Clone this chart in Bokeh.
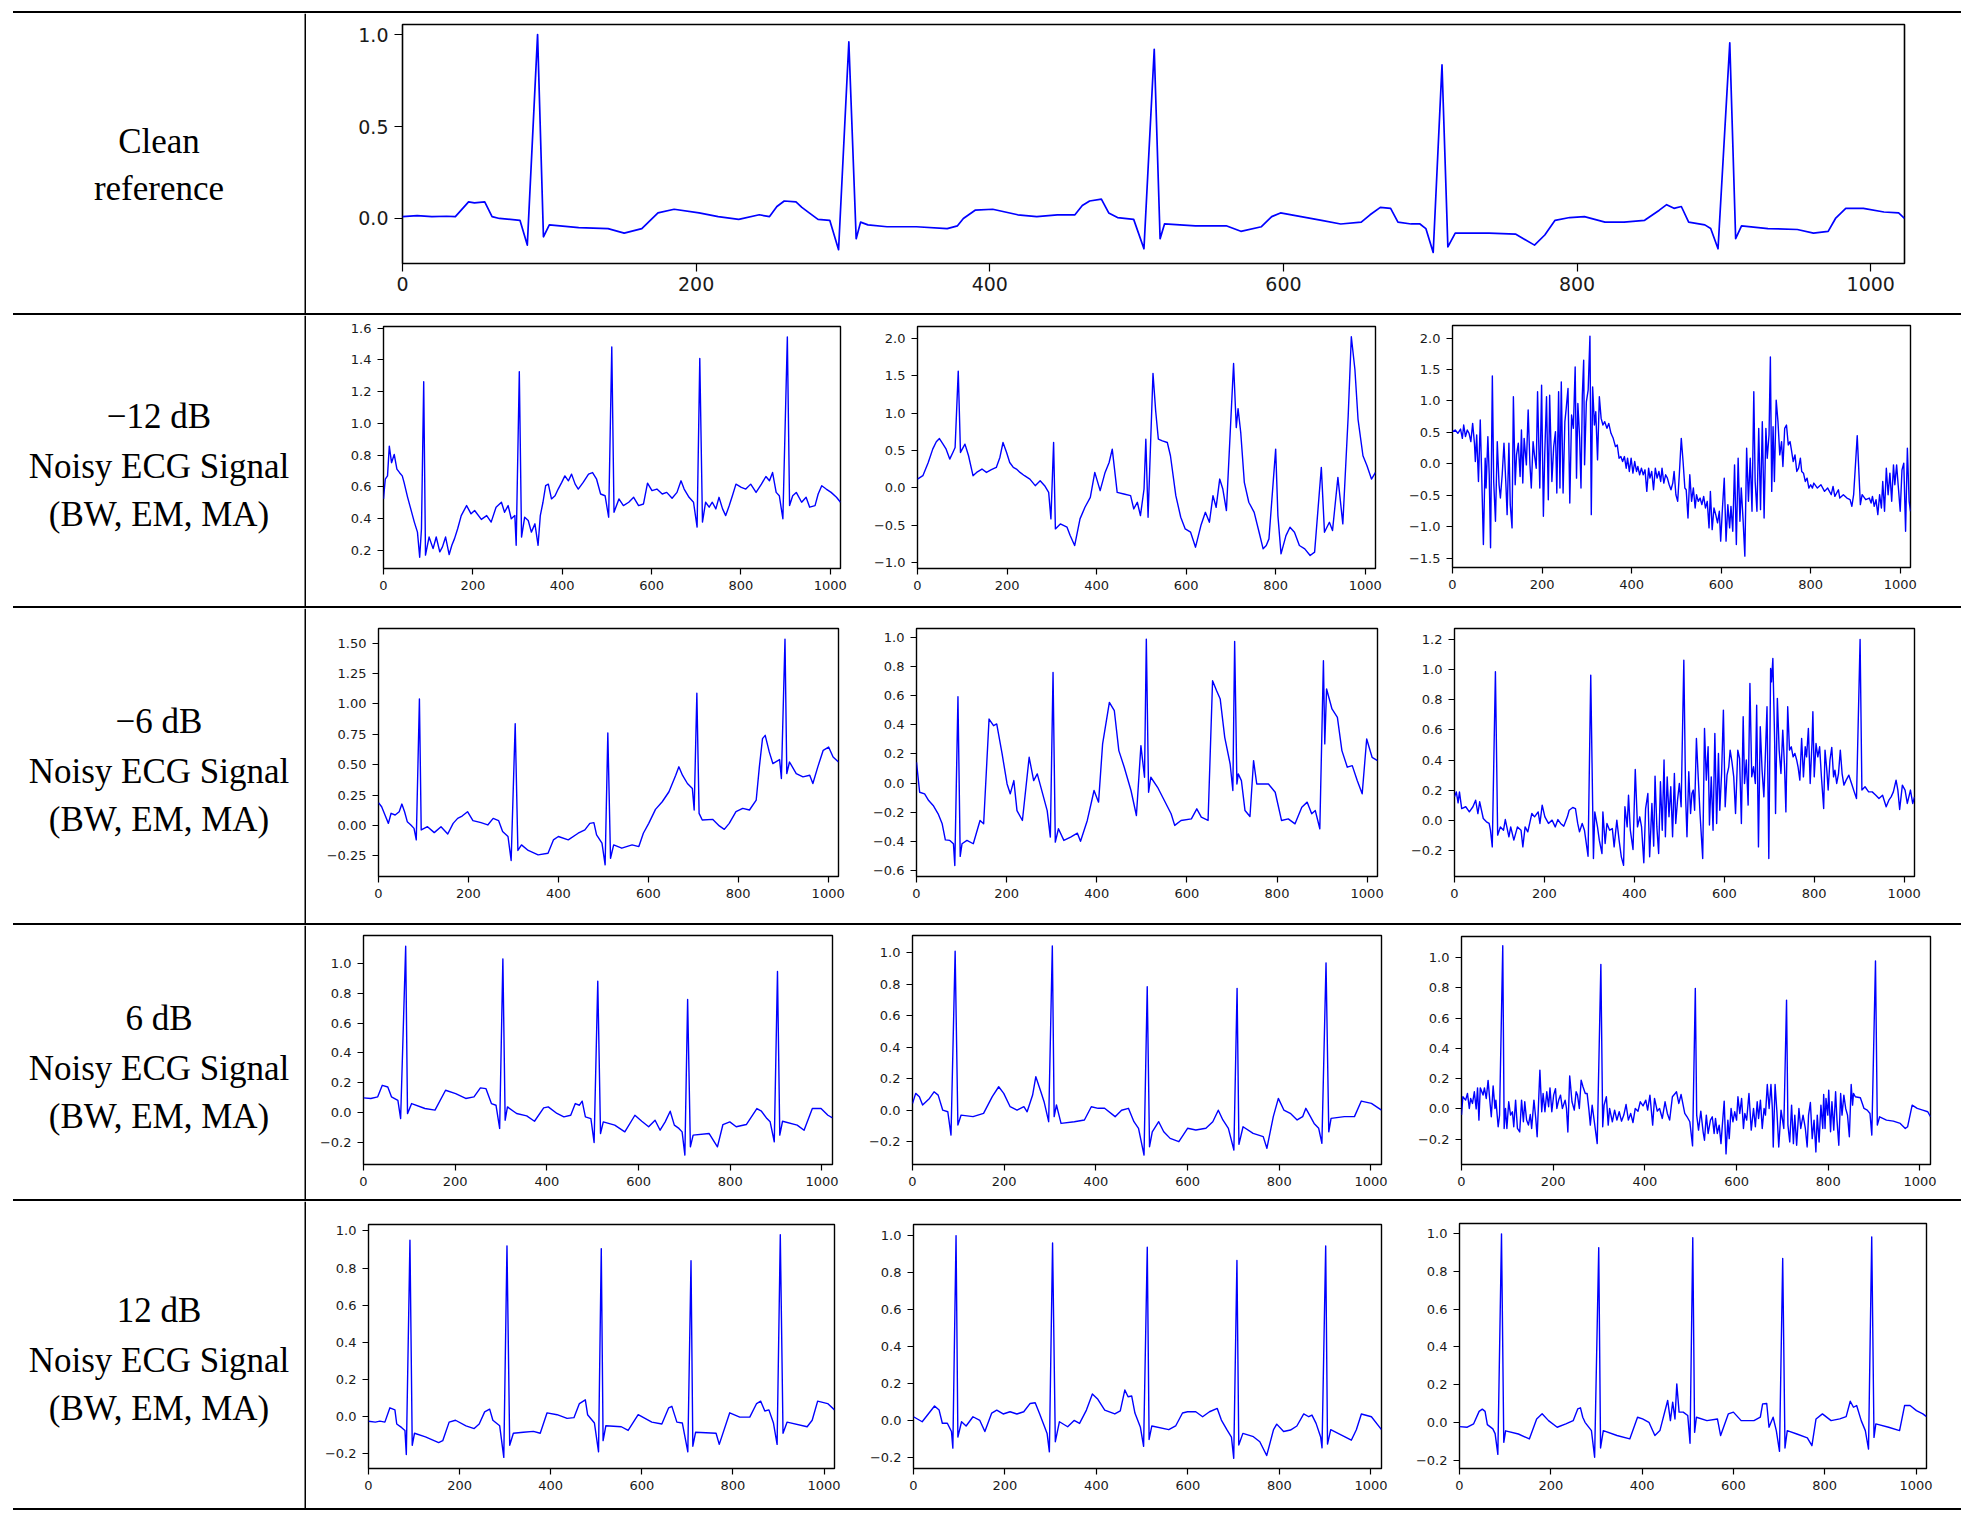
from bokeh.plotting import figure
from bokeh.layouts import row, column
from bokeh.models import Spacer, Range1d, FixedTicker, CustomJSTickFormatter, Div
from bokeh.embed import file_html
from bokeh.resources import INLINE
from bokeh.core.properties import value

# ---------------- data (x sample index, amplitude) ----------------
XTICKS = [0, 200, 400, 600, 800, 1000]

ROW_LABELS = [
    ["Clean", "reference"],
    ["\u221212 dB", "Noisy ECG Signal", "(BW, EM, MA)"],
    ["\u22126 dB", "Noisy ECG Signal", "(BW, EM, MA)"],
    ["6 dB", "Noisy ECG Signal", "(BW, EM, MA)"],
    ["12 dB", "Noisy ECG Signal", "(BW, EM, MA)"],
]

clean = [(0,0.01),(10,0.015),(20,0.01),(30,0.012),(36,0.01),(45,0.09),(49,0.085),(56,0.09),(61,0.01),(66,0.0),(80,-0.01),(85,-0.145),(92,1.0),(96,-0.1),(100,-0.035),(120,-0.05),(140,-0.055),(151,-0.08),(163,-0.055),(174,0.03),(185,0.05),(202,0.03),(215,0.01),(229,-0.005),(243,0.02),(250,0.01),(255,0.065),(260,0.095),(268,0.09),(272,0.06),(277,0.03),(283,-0.005),(291,-0.01),(297,-0.17),(304,0.96),(309,-0.11),(312,-0.02),(317,-0.035),(330,-0.045),(350,-0.045),(371,-0.055),(378,-0.04),(382,0.0),(390,0.045),(402,0.05),(419,0.02),(432,0.01),(446,0.02),(458,0.02),(463,0.07),(468,0.095),(476,0.105),(481,0.03),(487,0.005),(498,-0.005),(505,-0.165),(512,0.92),(516,-0.11),(519,-0.03),(540,-0.04),(561,-0.04),(571,-0.07),(585,-0.045),(592,0.01),(598,0.03),(612,0.01),(626,-0.01),(639,-0.03),(653,-0.02),(659,0.02),(666,0.06),(673,0.055),(678,-0.02),(687,-0.03),(693,-0.03),(697,-0.055),(702,-0.185),(708,0.835),(712,-0.155),(717,-0.08),(740,-0.08),(758,-0.085),(771,-0.145),(778,-0.09),(785,-0.01),(795,0.005),(805,0.01),(819,-0.02),(832,-0.02),(846,-0.01),(856,0.045),(861,0.075),(866,0.055),(871,0.065),(876,-0.02),(887,-0.035),(891,-0.055),(896,-0.165),(904,0.955),(908,-0.11),(912,-0.04),(930,-0.055),(950,-0.06),(961,-0.08),(971,-0.07),(976,0.0),(983,0.055),(995,0.055),(1009,0.035),(1019,0.03),(1023,0.0)]

m12_a = [(0,0.525),(4,0.65),(9,0.67),(13,0.857),(18,0.753),(24,0.805),(30,0.712),(36,0.69),(42,0.67),(46,0.629),(54,0.535),(61,0.462),(69,0.379),(76,0.316),(81,0.158),(85,0.337),(90,1.263),(94,0.171),(102,0.285),(111,0.212),(118,0.285),(126,0.192),(132,0.223),(139,0.285),(147,0.175),(153,0.233),(159,0.275),(166,0.337),(174,0.42),(186,0.483),(196,0.431),(204,0.452),(219,0.396),(231,0.42),(241,0.379),(252,0.473),(264,0.504),(271,0.441),(279,0.483),(286,0.4),(294,0.42),(297,0.233),(304,1.325),(309,0.285),(316,0.41),(324,0.389),(331,0.316),(339,0.368),(346,0.233),(351,0.42),(357,0.504),(363,0.608),(369,0.618),(376,0.525),(384,0.545),(391,0.587),(399,0.629),(406,0.67),(414,0.639),(421,0.681),(429,0.618),(436,0.587),(447,0.629),(459,0.681),(468,0.691),(477,0.649),(486,0.556),(496,0.545),(504,0.41),(511,1.481),(516,0.441),(527,0.525),(537,0.483),(549,0.504),(560,0.535),(571,0.483),(582,0.493),(591,0.624),(601,0.577),(612,0.587),(624,0.556),(634,0.566),(646,0.529),(657,0.566),(666,0.639),(673,0.587),(684,0.535),(694,0.504),(702,0.348),(708,1.409),(714,0.379),(721,0.504),(729,0.473),(736,0.504),(744,0.462),(751,0.535),(759,0.462),(766,0.42),(774,0.483),(781,0.545),(789,0.618),(801,0.598),(811,0.587),(822,0.618),(834,0.566),(846,0.618),(856,0.666),(864,0.639),(871,0.691),(879,0.566),(886,0.545),(894,0.4),(904,1.544),(909,0.483),(916,0.545),(924,0.566),(936,0.504),(946,0.535),(954,0.473),(966,0.483),(973,0.556),(981,0.608),(991,0.587),(1002,0.566),(1014,0.535),(1023,0.504)]

m12_b = [(0,0.118),(12,0.163),(24,0.34),(34,0.518),(42,0.616),(49,0.66),(57,0.585),(64,0.518),(72,0.385),(79,0.474),(84,0.54),(91,1.561),(96,0.474),(106,0.585),(114,0.43),(124,0.163),(132,0.207),(144,0.252),(154,0.207),(165,0.243),(176,0.274),(184,0.407),(191,0.607),(199,0.474),(206,0.34),(214,0.274),(221,0.252),(229,0.207),(239,0.163),(251,0.118),(263,0.03),(274,0.096),(284,0.03),(293,-0.059),(298,-0.414),(304,0.607),(308,-0.548),(319,-0.481),(334,-0.525),(341,-0.637),(351,-0.77),(363,-0.414),(374,-0.259),(386,-0.126),(396,0.207),(408,-0.037),(419,0.207),(428,0.34),(435,0.518),(446,-0.059),(461,-0.081),(476,-0.103),(483,-0.281),(491,-0.192),(498,-0.37),(506,-0.015),(510,0.651),(515,-0.392),(526,1.53),(532,1.027),(538,0.651),(547,0.629),(558,0.607),(565,0.43),(577,-0.104),(588,-0.392),(598,-0.548),(610,-0.592),(621,-0.792),(633,-0.503),(643,-0.326),(652,-0.459),(660,-0.104),(667,-0.259),(675,0.118),(682,-0.015),(690,-0.303),(706,1.663),(712,0.806),(716,1.059),(722,0.74),(730,0.074),(740,-0.192),(752,-0.326),(763,-0.592),(772,-0.814),(779,-0.77),(785,-0.681),(800,0.518),(805,-0.37),(812,-0.881),(823,-0.637),(832,-0.525),(842,-0.592),(853,-0.77),(865,-0.814),(877,-0.903),(887,-0.858),(902,0.274),(909,-0.592),(920,-0.459),(927,-0.57),(939,0.141),(950,-0.481),(962,0.962),(969,2.02),(977,1.582),(984,0.917),(995,0.43),(1004,0.296),(1014,0.118),(1023,0.207)]

m12_c = [(0,0.511),(6,0.537),(12,0.485),(18,0.553),(22,0.405),(25,0.617),(29,0.432),(33,0.537),(37,0.485),(41,0.353),(45,0.643),(49,0.327),(51,0.036),(54,0.458),(58,-0.281),(62,0.696),(65,-0.122),(69,-1.284),(73,0.089),(75,-0.386),(79,0.432),(82,-0.175),(85,-1.337),(89,1.398),(92,-0.281),(96,-0.914),(100,0.353),(104,-0.334),(107,-0.545),(111,-0.175),(115,0.327),(119,-0.281),(122,-0.809),(126,0.327),(129,-0.65),(133,-1.02),(136,1.066),(140,-0.334),(143,0.142),(147,0.327),(151,-0.202),(154,0.537),(157,-0.307),(160,0.405),(165,-0.017),(169,0.855),(173,-0.017),(176,-0.386),(180,0.353),(183,0.142),(187,-0.07),(190,1.145),(195,-0.386),(199,1.25),(203,-0.835),(206,0.142),(210,1.066),(214,-0.571),(217,1.092),(222,-0.281),(226,0.273),(230,0.511),(233,-0.466),(237,1.145),(240,-0.386),(243,1.303),(247,-0.466),(251,0.67),(254,0.881),(258,1.197),(262,-0.624),(266,0.775),(270,0.564),(274,1.541),(277,-0.228),(280,0.96),(284,0.405),(287,-0.386),(290,1.092),(293,1.647),(295,-0.017),(299,0.986),(303,1.171),(307,2.031),(310,-0.809),(313,1.224),(317,0.617),(320,0.828),(324,0.062),(328,1.066),(332,0.722),(336,0.617),(340,0.67),(345,0.564),(349,0.643),(354,0.485),(359,0.405),(364,0.273),(368,0.3),(372,0.089),(376,0.115),(380,0.036),(384,0.115),(388,-0.07),(391,0.089),(395,-0.122),(399,0.089),(403,-0.149),(407,0.036),(411,-0.122),(414,-0.043),(418,-0.175),(422,-0.07),(426,-0.175),(430,-0.096),(434,-0.439),(438,-0.07),(441,-0.228),(445,-0.122),(449,-0.413),(453,-0.07),(457,-0.228),(461,-0.122),(465,-0.281),(468,-0.07),(472,-0.307),(476,-0.175),(480,-0.228),(484,-0.334),(488,-0.413),(492,-0.307),(495,-0.122),(499,-0.492),(503,-0.597),(507,-0.122),(511,0.405),(515,0.036),(519,-0.386),(522,-0.413),(526,-0.862),(530,-0.175),(534,-0.597),(538,-0.386),(542,-0.703),(545,-0.492),(549,-0.597),(553,-0.545),(557,-0.65),(561,-0.518),(565,-0.703),(569,-0.597),(573,-1.02),(576,-0.439),(580,-1.047),(584,-0.703),(588,-0.809),(592,-0.94),(596,-0.756),(599,-1.231),(603,-0.703),(607,-0.228),(611,-1.231),(615,-0.65),(619,-1.02),(622,-0.677),(626,-1.073),(630,-0.017),(634,-1.284),(638,0.089),(642,-0.914),(645,-0.386),(649,-0.888),(653,-1.469),(657,0.247),(661,-0.597),(665,0.089),(669,-0.756),(673,1.145),(676,-0.281),(680,-0.756),(684,0.564),(688,-0.73),(692,0.67),(696,-0.862),(700,0.564),(703,0.089),(707,0.458),(710,1.7),(713,-0.439),(716,0.59),(719,-0.281),(723,1.013),(727,0.67),(731,0.142),(735,0.353),(738,-0.043),(742,0.564),(746,0.617),(750,0.3),(754,0.353),(757,0.221),(761,0.036),(765,0.142),(769,-0.122),(773,-0.07),(777,0.089),(780,-0.122),(784,-0.149),(788,-0.281),(792,-0.228),(796,-0.386),(800,-0.334),(804,-0.386),(807,-0.307),(815,-0.386),(823,-0.334),(831,-0.439),(838,-0.386),(846,-0.492),(850,-0.36),(854,-0.518),(862,-0.413),(865,-0.545),(873,-0.492),(881,-0.545),(888,-0.571),(892,-0.677),(896,-0.492),(904,0.448),(908,-0.175),(911,-0.65),(915,-0.492),(923,-0.571),(931,-0.545),(935,-0.624),(938,-0.518),(942,-0.677),(946,-0.571),(950,-0.809),(954,-0.492),(958,-0.703),(961,-0.281),(965,-0.756),(969,-0.07),(973,-0.492),(977,-0.149),(981,-0.597),(985,-0.017),(988,-0.334),(992,-0.017),(996,-0.386),(1000,-0.756),(1004,-0.096),(1008,0.009),(1012,-1.073),(1016,0.247),(1020,-0.597),(1023,-0.756)]

m6_a = [(0,0.187),(7,0.154),(16,0.072),(22,0.017),(28,0.1),(37,0.086),(46,0.113),(52,0.176),(58,0.113),(64,0.031),(72,0.004),(79,-0.024),(84,-0.119),(91,1.041),(95,-0.037),(109,-0.01),(124,-0.059),(139,-0.01),(154,-0.07),(166,0.017),(176,0.058),(186,0.077),(198,0.113),(210,0.04),(228,0.023),(243,0.004),(255,0.058),(267,0.04),(276,-0.05),(288,-0.091),(295,-0.288),(304,0.837),(310,-0.206),(318,-0.16),(333,-0.206),(355,-0.242),(377,-0.229),(389,-0.119),(400,-0.091),(422,-0.119),(444,-0.064),(459,-0.037),(470,0.017),(479,0.023),(485,-0.078),(497,-0.146),(504,-0.324),(510,0.76),(516,-0.27),(523,-0.16),(541,-0.187),(564,-0.16),(579,-0.174),(589,-0.064),(601,0.017),(616,0.132),(631,0.195),(646,0.277),(661,0.413),(668,0.482),(676,0.413),(687,0.345),(698,0.304),(702,0.127),(708,1.087),(713,0.099),(720,0.045),(743,0.05),(758,-0.004),(769,-0.032),(780,0.017),(795,0.113),(810,0.14),(825,0.127),(840,0.209),(847,0.482),(854,0.714),(860,0.741),(869,0.605),(877,0.509),(892,0.542),(896,0.386),(904,1.533),(908,0.427),(914,0.522),(929,0.427),(944,0.4),(959,0.413),(966,0.345),(977,0.482),(989,0.618),(1001,0.645),(1011,0.563),(1023,0.522)]

m6_b = [(0,0.143),(7,-0.063),(18,-0.074),(27,-0.12),(37,-0.154),(48,-0.211),(57,-0.28),(64,-0.39),(74,-0.394),(82,-0.417),(85,-0.566),(92,0.593),(97,-0.504),(101,-0.417),(112,-0.394),(126,-0.417),(141,-0.257),(149,-0.28),(161,0.44),(171,0.394),(178,0.406),(190,0.2),(201,-0.006),(208,-0.074),(216,0.017),(223,-0.189),(235,-0.257),(250,0.177),(260,0.017),(268,0.063),(280,-0.074),(290,-0.189),(297,-0.371),(303,0.76),(308,-0.406),(315,-0.314),(327,-0.394),(342,-0.371),(357,-0.344),(364,-0.4),(379,-0.257),(394,-0.051),(404,-0.131),(413,0.269),(428,0.554),(439,0.497),(449,0.223),(461,0.109),(476,-0.051),(488,-0.223),(498,0.257),(506,0.04),(510,0.989),(515,-0.063),(520,0.04),(535,-0.029),(550,-0.12),(565,-0.211),(573,-0.291),(587,-0.257),(610,-0.246),(622,-0.177),(632,-0.234),(647,-0.257),(657,0.703),(666,0.634),(674,0.577),(684,0.314),(696,0.131),(702,-0.051),(706,0.973),(711,-0.006),(714,0.063),(721,0.017),(729,-0.189),(740,-0.23),(748,0.154),(755,-0.006),(766,-0.006),(781,-0.006),(796,-0.063),(810,-0.257),(825,-0.246),(840,-0.28),(855,-0.166),(867,-0.131),(877,-0.211),(885,-0.189),(895,-0.314),(903,0.84),(906,0.269),(910,0.646),(922,0.509),(934,0.451),(944,0.223),(956,0.109),(967,0.12),(978,0.017),(989,-0.074),(999,0.303),(1011,0.177),(1023,0.154)]

m6_c = [(0,0.155),(4,0.188),(8,0.115),(11,0.188),(16,0.077),(25,0.089),(33,0.055),(41,0.089),(47,0.133),(52,0.044),(56,0.122),(64,0.011),(71,-0.011),(77,-0.022),(80,-0.067),(84,-0.178),(91,0.987),(96,-0.1),(102,-0.045),(109,-0.067),(113,0.004),(121,-0.111),(125,-0.045),(132,-0.133),(140,-0.045),(148,-0.067),(152,-0.178),(157,-0.045),(163,-0.078),(172,0.044),(178,0.022),(186,0.055),(190,-0.022),(195,0.1),(201,0.022),(209,-0.022),(217,0.0),(224,-0.045),(230,0.004),(236,-0.022),(243,-0.04),(251,0.022),(255,0.066),(263,0.084),(269,0.077),(274,-0.022),(278,-0.078),(284,-0.022),(289,-0.067),(297,-0.24),(303,0.965),(309,-0.255),(312,0.055),(318,-0.045),(322,-0.133),(328,-0.222),(330,0.055),(335,-0.155),(339,-0.022),(345,-0.067),(351,-0.056),(355,-0.178),(361,0.0),(366,-0.133),(371,-0.244),(376,-0.3),(379,0.089),(384,-0.045),(387,0.166),(391,-0.067),(397,-0.195),(402,0.337),(407,-0.045),(412,0.022),(416,-0.045),(421,-0.284),(425,0.077),(430,0.177),(434,-0.244),(439,0.111),(443,-0.173),(446,0.293),(450,-0.045),(454,-0.222),(458,0.255),(462,-0.067),(466,0.4),(469,-0.111),(473,0.288),(477,0.022),(481,0.222),(485,-0.111),(489,0.31),(492,-0.022),(496,0.133),(500,0.244),(504,0.089),(510,1.064),(514,0.155),(517,-0.111),(521,0.322),(525,0.044),(528,0.177),(531,0.2),(534,0.066),(538,0.543),(542,0.288),(546,0.044),(552,-0.255),(556,0.61),(560,0.266),(564,0.488),(567,-0.033),(571,0.288),(575,-0.067),(579,0.577),(583,-0.022),(587,0.444),(590,0.066),(594,0.31),(598,0.732),(602,0.089),(606,0.299),(610,0.355),(613,0.466),(617,0.388),(621,0.288),(625,0.044),(630,0.466),(634,0.41),(638,-0.022),(642,0.688),(645,0.244),(649,0.4),(653,0.1),(657,0.909),(661,0.288),(665,0.355),(669,0.244),(672,0.765),(676,-0.178),(680,0.621),(684,0.333),(688,0.155),(691,0.4),(695,0.754),(699,-0.255),(703,1.009),(705,0.92),(708,1.075),(712,0.521),(714,0.044),(718,0.81),(722,0.466),(726,0.31),(730,0.599),(734,0.355),(737,0.055),(741,0.754),(745,0.466),(749,0.488),(753,0.421),(757,0.444),(761,0.4),(764,0.355),(768,0.266),(772,0.543),(776,0.288),(780,0.488),(783,0.421),(787,0.61),(791,0.244),(795,0.51),(797,0.721),(800,0.288),(804,0.51),(808,0.421),(812,0.488),(816,0.288),(821,0.077),(824,0.466),(828,0.333),(831,0.2),(835,0.4),(839,0.484),(843,0.288),(846,0.333),(850,0.244),(854,0.31),(858,0.466),(862,0.31),(866,0.233),(871,0.266),(877,0.299),(883,0.244),(889,0.188),(894,0.144),(902,1.202),(906,0.2),(913,0.222),(921,0.188),(929,0.188),(937,0.166),(944,0.144),(952,0.166),(960,0.089),(966,0.133),(971,0.155),(976,0.188),(982,0.266),(986,0.2),(990,0.071),(996,0.233),(1002,0.2),(1007,0.111),(1014,0.2),(1019,0.111),(1023,0.155)]

p6_a = [(0,0.1),(16,0.096),(31,0.107),(41,0.184),(53,0.173),(61,0.107),(75,0.084),(81,-0.038),(92,1.113),(96,-0.005),(105,0.062),(134,0.029),(156,0.018),(179,0.151),(201,0.129),(223,0.096),(241,0.107),(255,0.167),(267,0.162),(279,0.062),(289,0.051),(297,-0.104),(304,1.029),(309,-0.049),(314,0.04),(334,-0.004),(356,-0.02),(373,-0.056),(393,0.033),(403,0.04),(422,-0.004),(437,-0.027),(452,-0.016),(462,0.062),(471,0.051),(477,0.078),(484,-0.027),(496,-0.038),(503,-0.198),(511,0.88),(517,-0.138),(523,-0.06),(548,-0.082),(570,-0.127),(592,-0.016),(607,-0.056),(622,-0.093),(636,-0.049),(647,-0.116),(658,-0.06),(669,0.011),(678,-0.082),(688,-0.104),(695,-0.127),(701,-0.282),(707,0.758),(713,-0.227),(719,-0.149),(754,-0.138),(772,-0.227),(784,-0.078),(799,-0.06),(813,-0.093),(835,-0.078),(858,0.029),(868,0.011),(880,-0.038),(887,-0.06),(896,-0.193),(903,0.944),(908,-0.149),(914,-0.056),(946,-0.082),(961,-0.116),(979,0.029),(998,0.029),(1013,-0.016),(1023,-0.033)]

p6_b = [(0,0.043),(7,0.107),(15,0.086),(22,0.033),(37,0.075),(47,0.117),(56,0.096),(66,0.0),(77,-0.01),(84,-0.158),(93,1.01),(99,-0.094),(106,-0.031),(132,-0.041),(155,-0.02),(174,0.086),(188,0.149),(199,0.107),(213,0.022),(228,0.0),(243,0.022),(250,-0.01),(262,0.096),(269,0.213),(280,0.117),(287,0.054),(297,-0.073),(305,1.044),(309,-0.041),(314,0.033),(324,-0.084),(353,-0.073),(375,-0.062),(390,0.022),(405,0.012),(419,0.012),(442,-0.041),(456,0.0),(471,0.012),(483,-0.073),(493,-0.115),(505,-0.285),(512,0.784),(517,-0.232),(523,-0.137),(537,-0.073),(548,-0.137),(562,-0.179),(581,-0.2),(600,-0.115),(618,-0.126),(640,-0.115),(655,-0.073),(667,0.0),(677,-0.062),(689,-0.115),(701,-0.253),(708,0.774),(712,-0.217),(721,-0.105),(743,-0.147),(765,-0.168),(773,-0.242),(787,-0.041),(798,0.075),(810,0.001),(824,-0.02),(839,-0.062),(851,-0.041),(858,0.012),(868,-0.041),(876,-0.084),(886,-0.115),(893,-0.21),(902,0.936),(908,-0.137),(913,-0.052),(942,-0.041),(964,-0.041),(979,0.058),(1001,0.043),(1023,0.0)]

p6_c = [(0,-0.04),(3,0.08),(9,0.058),(13,0.102),(17,0.003),(20,0.069),(24,0.036),(28,0.113),(32,0.0),(35,0.139),(38,-0.074),(41,0.139),(47,0.091),(50,0.139),(54,0.069),(58,0.188),(62,0.047),(65,-0.052),(69,0.152),(73,0.003),(75,0.058),(80,-0.118),(83,-0.041),(90,1.077),(93,-0.129),(96,0.003),(99,-0.129),(103,0.047),(107,-0.041),(111,-0.019),(114,-0.118),(118,0.058),(122,-0.129),(127,-0.152),(131,0.058),(135,-0.085),(138,0.047),(142,-0.074),(146,-0.107),(150,-0.037),(153,-0.129),(158,0.058),(162,-0.063),(165,-0.184),(171,0.256),(175,-0.019),(178,0.102),(182,-0.019),(186,0.113),(190,0.014),(193,0.139),(197,-0.019),(201,0.091),(205,0.134),(208,0.003),(212,0.058),(216,0.091),(220,0.003),(226,0.058),(229,0.003),(232,-0.152),(236,0.218),(241,0.047),(246,-0.008),(250,0.113),(253,0.091),(257,0.003),(261,0.19),(265,0.146),(270,0.102),(274,0.102),(278,-0.008),(281,-0.107),(285,0.025),(296,-0.229),(304,0.954),(308,-0.118),(311,0.025),(316,0.08),(320,-0.107),(323,0.003),(329,-0.085),(334,-0.008),(339,-0.074),(344,-0.019),(349,-0.081),(354,-0.041),(359,0.029),(364,-0.074),(369,-0.03),(374,-0.09),(379,0.003),(385,-0.015),(390,0.047),(396,0.02),(402,0.058),(406,-0.008),(411,0.091),(417,-0.107),(421,0.069),(427,-0.015),(432,0.003),(438,-0.063),(444,0.047),(449,-0.03),(454,-0.074),(460,0.08),(466,0.102),(469,0.113),(474,0.036),(479,0.095),(487,-0.03),(492,-0.052),(498,-0.085),(504,-0.244),(510,0.795),(513,-0.041),(517,-0.14),(522,-0.015),(527,-0.151),(530,-0.207),(534,-0.041),(538,-0.162),(543,-0.074),(547,-0.052),(551,-0.162),(554,-0.063),(558,-0.162),(562,-0.107),(566,-0.229),(569,-0.107),(573,0.051),(577,-0.297),(581,-0.074),(584,-0.196),(588,0.003),(592,-0.085),(596,-0.019),(600,-0.074),(603,0.08),(607,-0.03),(611,0.069),(615,-0.129),(618,-0.03),(622,-0.074),(627,0.102),(632,-0.14),(637,0.003),(641,-0.118),(645,0.047),(648,-0.063),(652,0.058),(656,-0.129),(660,0.003),(663,-0.041),(667,0.161),(671,0.003),(675,0.161),(678,0.003),(680,-0.251),(684,0.161),(688,-0.019),(692,-0.251),(697,-0.008),(703,-0.129),(709,0.718),(712,-0.107),(716,-0.218),(720,0.025),(724,-0.229),(727,-0.041),(731,-0.24),(736,0.003),(740,-0.129),(745,-0.041),(750,-0.129),(754,-0.251),(757,-0.041),(761,0.042),(765,-0.196),(769,-0.074),(773,-0.284),(776,-0.041),(780,-0.218),(784,0.025),(788,-0.129),(790,0.095),(793,-0.129),(795,0.069),(799,-0.041),(801,0.124),(805,-0.151),(808,0.047),(812,-0.14),(816,0.113),(819,-0.074),(823,-0.24),(827,0.102),(830,-0.041),(834,0.091),(838,0.003),(842,-0.041),(846,-0.184),(850,0.161),(853,0.025),(855,0.102),(859,0.08),(870,0.074),(878,0.003),(885,-0.008),(891,-0.03),(895,-0.173),(903,0.976),(907,-0.107),(912,-0.052),(927,-0.074),(942,-0.081),(957,-0.096),(968,-0.129),(973,-0.118),(983,0.025),(994,0.003),(1006,-0.008),(1017,-0.019),(1023,-0.052)]

p12_a = [(0,-0.025),(15,-0.03),(25,-0.025),(36,-0.03),(47,0.047),(58,0.036),(62,-0.04),(73,-0.06),(80,-0.075),(83,-0.205),(91,0.95),(96,-0.155),(101,-0.09),(125,-0.11),(154,-0.14),(163,-0.13),(177,-0.03),(191,-0.02),(214,-0.05),(232,-0.065),(243,-0.04),(255,0.025),(266,0.04),(273,-0.02),(288,-0.05),(297,-0.22),(304,0.92),(310,-0.155),(318,-0.09),(340,-0.085),(362,-0.08),(377,-0.09),(392,0.02),(414,0.01),(436,-0.01),(451,-0.006),(463,0.07),(476,0.09),(481,0.01),(496,-0.035),(505,-0.19),(511,0.905),(515,-0.13),(521,-0.05),(555,-0.055),(570,-0.075),(592,0.01),(622,-0.03),(644,-0.04),(659,0.047),(666,0.055),(677,-0.03),(689,-0.035),(701,-0.19),(708,0.84),(712,-0.16),(718,-0.085),(763,-0.09),(770,-0.15),(793,0.02),(815,-0.003),(837,-0.003),(852,0.07),(861,0.083),(870,0.03),(879,0.036),(889,-0.035),(897,-0.15),(904,0.98),(910,-0.09),(919,-0.03),(963,-0.055),(974,-0.02),(986,0.083),(1008,0.07),(1023,0.036)]

p12_b = [(0,0.02),(19,-0.007),(34,0.04),(46,0.078),(56,0.056),(63,-0.015),(74,-0.015),(83,-0.06),(86,-0.15),(93,1.0),(97,-0.09),(105,-0.007),(115,-0.03),(130,0.02),(145,0.0),(156,-0.06),(171,0.04),(182,0.056),(196,0.035),(211,0.047),(226,0.035),(241,0.047),(255,0.092),(266,0.096),(275,0.04),(285,-0.025),(292,-0.07),(297,-0.17),(304,0.96),(310,-0.115),(319,-0.007),(337,-0.034),(351,0.0),(363,-0.016),(378,0.056),(391,0.143),(403,0.114),(418,0.056),(440,0.035),(452,0.052),(462,0.165),(469,0.128),(477,0.132),(484,0.04),(496,-0.037),(503,-0.14),(511,0.937),(515,-0.103),(521,-0.03),(558,-0.05),(573,-0.03),(588,0.04),(599,0.047),(617,0.047),(632,0.02),(647,0.047),(664,0.065),(673,0.002),(685,-0.05),(695,-0.09),(700,-0.205),(707,0.865),(711,-0.133),(720,-0.07),(743,-0.088),(757,-0.115),(772,-0.19),(787,-0.05),(794,-0.02),(809,-0.06),(824,-0.052),(838,-0.03),(853,0.035),(864,0.02),(871,0.029),(880,-0.016),(890,-0.09),(893,-0.148),(901,0.944),(905,-0.128),(912,-0.05),(942,-0.088),(957,-0.107),(968,-0.05),(979,0.035),(1001,0.02),(1023,-0.05)]

p12_c = [(0,-0.023),(17,-0.026),(31,-0.008),(43,0.058),(50,0.07),(56,0.058),(61,-0.012),(73,-0.035),(78,-0.06),(84,-0.17),(92,1.0),(97,-0.106),(101,-0.045),(129,-0.062),(153,-0.088),(169,0.018),(181,0.045),(195,0.009),(214,-0.026),(233,-0.008),(249,0.009),(259,0.071),(265,0.077),(270,0.027),(275,0.0),(289,-0.044),(296,-0.185),(305,0.927),(309,-0.136),(315,-0.044),(345,-0.07),(373,-0.088),(390,0.027),(401,0.018),(415,0.0),(428,-0.07),(439,-0.044),(456,0.116),(462,0.009),(467,0.107),(472,0.018),(476,0.204),(481,0.054),(490,0.054),(500,0.036),(505,-0.111),(511,0.979),(515,-0.053),(519,0.027),(542,0.009),(565,0.018),(572,-0.07),(589,0.045),(600,0.054),(617,0.009),(645,0.009),(659,0.027),(664,0.098),(673,0.1),(678,-0.026),(687,0.027),(694,-0.044),(701,-0.154),(708,0.869),(713,-0.136),(718,-0.044),(739,-0.062),(762,-0.083),(772,-0.124),(781,0.018),(795,0.045),(814,0.009),(833,0.018),(847,0.03),(856,0.112),(863,0.08),(870,0.089),(880,0.009),(889,-0.044),(896,-0.142),(903,0.984),(908,-0.08),(912,-0.008),(940,-0.026),(964,-0.044),(975,0.089),(987,0.089),(1001,0.062),(1015,0.045),(1023,0.03)]

# y tick values per panel
T_CLEAN = [0.0, 0.5, 1.0]
T_M12A = [0.2, 0.4, 0.6, 0.8, 1.0, 1.2, 1.4, 1.6]
T_M12B = [-1.0, -0.5, 0.0, 0.5, 1.0, 1.5, 2.0]
T_M12C = [-1.5, -1.0, -0.5, 0.0, 0.5, 1.0, 1.5, 2.0]
T_M6A = [-0.25, 0.0, 0.25, 0.5, 0.75, 1.0, 1.25, 1.5]
T_M6B = [-0.6, -0.4, -0.2, 0.0, 0.2, 0.4, 0.6, 0.8, 1.0]
T_M6C = [-0.2, 0.0, 0.2, 0.4, 0.6, 0.8, 1.0, 1.2]
T_STD = [-0.2, 0.0, 0.2, 0.4, 0.6, 0.8, 1.0]

# ---------------- helpers ----------------
MINUS_JS = "const s = Math.abs(tick).toFixed(d); return (tick < -1e-9 ? '\u2212' : '') + s;"


def signal_fig(pts, yr, yticks, dec, w, h, bl, br, bt, bb, big=False):
    xs = [p[0] for p in pts]
    ys = [p[1] for p in pts]
    p = figure(width=w, height=h, title=None, x_range=Range1d(0, 1023), y_range=Range1d(*yr),
               output_backend="svg", toolbar_location=None, frame_align=False,
               min_border_left=bl, min_border_right=br, min_border_top=bt, min_border_bottom=bb)
    p.line(xs, ys, line_color="#0000ff", line_width=1.7 if big else 1.4, line_join="round")
    p.xgrid.visible = False
    p.ygrid.visible = False
    p.outline_line_color = "black"
    p.outline_line_width = 1.6 if big else 1.4
    p.background_fill_color = "white"
    p.border_fill_color = "white"
    p.xaxis.ticker = FixedTicker(ticks=XTICKS)
    p.yaxis.ticker = FixedTicker(ticks=yticks)
    p.yaxis.formatter = CustomJSTickFormatter(args=dict(d=dec), code=MINUS_JS)
    fs = "19px" if big else "13px"
    tl = 8 if big else 6
    for ax in (p.xaxis[0], p.yaxis[0]):
        ax.axis_line_color = None
        ax.major_tick_in = 0
        ax.major_tick_out = tl
        ax.minor_tick_line_color = None
        ax.major_tick_line_color = "black"
        ax.major_tick_line_width = 1.2
        ax.major_label_text_font = "DejaVu Sans"
        ax.major_label_text_font_size = fs
        ax.major_label_text_color = "#1a1a1a"
    p.xaxis[0].major_label_standoff = 5 if big else 6
    p.yaxis[0].major_label_standoff = 6 if big else 6
    return p


def label_fig(lines, h):
    p = figure(width=293, height=h, title=None, x_range=Range1d(0, 293), y_range=Range1d(h, 0),
               x_axis_type=None, y_axis_type=None, min_border=0, frame_align=False,
               output_backend="svg", toolbar_location=None)
    p.outline_line_color = None
    n = len(lines)
    if n == 3:
        mid = h / 2 + 5.5
        ys = [mid - 50, mid, mid + 48]
    else:
        ys = [h / 2 - 22, h / 2 + 25]
    p.text(x=[145.5] * n, y=ys, text=lines, text_align="center", text_baseline="alphabetic",
           text_font=value("Liberation Serif"), text_font_size="35px", text_color="black")
    p.quad(left=[291], right=[293], bottom=[0], top=[h], fill_color="black", line_color=None)
    return p


def hline():
    return Div(text="", width=1948, height=2, margin=0,
               styles={"background-color": "black", "width": "1948px", "height": "2px"})


# ---------------- rows ----------------
r1 = row(label_fig(ROW_LABELS[0], 300),
         signal_fig(clean, (-0.245, 1.055), T_CLEAN, 1, 1655, 300, 96, 57, 11, 50, big=True))

h2 = 291
r2 = row(label_fig(ROW_LABELS[1], h2),
         signal_fig(m12_a, (0.087, 1.61), T_M12A, 1, 544, h2, 77, 10, 11, 38),
         signal_fig(m12_b, (-1.077, 2.157), T_M12B, 1, 535, h2, 67, 10, 11, 38),
         signal_fig(m12_c, (-1.65, 2.2), T_M12C, 1, 576, h2, 67, 51, 10, 39))

h3 = 315
r3 = row(label_fig(ROW_LABELS[2], h3),
         signal_fig(m6_a, (-0.42, 1.62), T_M6A, 2, 542, h3, 72, 10, 20, 47),
         signal_fig(m6_b, (-0.642, 1.062), T_M6B, 1, 539, h3, 68, 10, 20, 47),
         signal_fig(m6_c, (-0.375, 1.275), T_M6C, 1, 574, h3, 67, 47, 20, 47))

h4 = 274
r4 = row(label_fig(ROW_LABELS[3], h4),
         signal_fig(p6_a, (-0.345, 1.185), T_STD, 1, 536, h4, 57, 10, 10, 35),
         signal_fig(p6_b, (-0.345, 1.11), T_STD, 1, 549, h4, 70, 10, 10, 35),
         signal_fig(p6_c, (-0.367, 1.138), T_STD, 1, 570, h4, 70, 31, 11, 35))

h5 = 307
r5 = row(label_fig(ROW_LABELS[4], h5),
         signal_fig(p12_a, (-0.28, 1.035), T_STD, 1, 538, h5, 62, 10, 23, 40),
         signal_fig(p12_b, (-0.26, 1.06), T_STD, 1, 547, h5, 69, 10, 23, 40),
         signal_fig(p12_c, (-0.245, 1.055), T_STD, 1, 570, h5, 68, 35, 22, 40))

table = column(hline(), r1, hline(), r2, hline(), r3, hline(), r4, hline(), r5, hline())
page = column(Spacer(width=10, height=11), row(Spacer(width=13, height=10), table))

open("out.html", "w").write(file_html(page, INLINE, title="ECG signals"))
